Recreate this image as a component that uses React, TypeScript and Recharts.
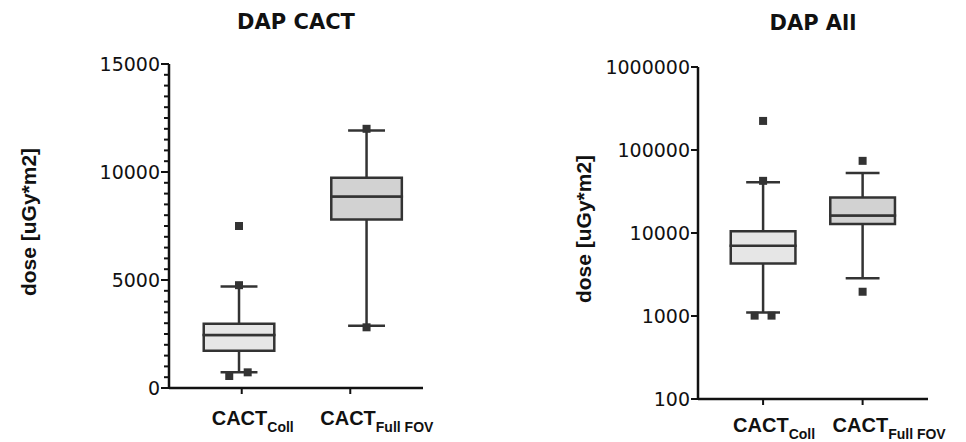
import {
  ScatterChart,
  Scatter,
  XAxis,
  YAxis,
  ZAxis,
  ReferenceArea,
  ReferenceLine,
} from 'recharts';

// categories (subscripts of "CACT")
const categories = ['Coll', 'Full FOV'];
const boxFills = ['#e6e6e6', '#d2d2d2'];

// DAP CACT, linear scale
const cactLow = [725, 2880];
const cactQ1 = [1730, 7800];
const cactMedian = [2450, 8870];
const cactQ3 = [2970, 9730];
const cactHigh = [4700, 11920];
const cactOutliers = [7500, 4760, 555, 725, 12000, 2810];
const cactOutlierGroup = [0, 0, 0, 0, 1, 1];
const cactOutlierJitter = [0, 0, -0.09, 0.08, 0, 0];
const cactTicks = Array.from({ length: 31 }, (_, i) => i * 500);

// DAP All, log scale
const allLow = [1100, 2840];
const allQ1 = [4300, 12800];
const allMedian = [7000, 16200];
const allQ3 = [10500, 26800];
const allHigh = [41000, 53000];
const allOutliers = [224000, 42500, 1010, 1010, 74000, 1960];
const allOutlierGroup = [0, 0, 0, 0, 1, 1];
const allOutlierJitter = [0, 0, -0.085, 0.085, 0, 0];
const allTicks = [100, 1000, 10000, 100000, 1000000];

const INK = '#111';
const BOX = '#333';
const BOX_W = 0.65;
const CAP_W = 0.34;

type Stats = { low: number[]; q1: number[]; median: number[]; q3: number[]; high: number[] };

function boxElements(stats: Stats, pos: number[]) {
  return categories.flatMap((_, i) => {
    const c = pos[i];
    const b0 = c - BOX_W / 2;
    const b1 = c + BOX_W / 2;
    const w0 = c - CAP_W / 2;
    const w1 = c + CAP_W / 2;
    const line = { stroke: BOX, strokeWidth: 2.5, ifOverflow: 'visible' as const };
    return [
      <ReferenceLine key={`sl${i}`} segment={[{ x: c, y: stats.low[i] }, { x: c, y: stats.q1[i] }]} {...line} />,
      <ReferenceLine key={`sh${i}`} segment={[{ x: c, y: stats.q3[i] }, { x: c, y: stats.high[i] }]} {...line} />,
      <ReferenceLine key={`cl${i}`} segment={[{ x: w0, y: stats.low[i] }, { x: w1, y: stats.low[i] }]} {...line} />,
      <ReferenceLine key={`ch${i}`} segment={[{ x: w0, y: stats.high[i] }, { x: w1, y: stats.high[i] }]} {...line} />,
      <ReferenceArea key={`bl${i}`} x1={b0} x2={b1} y1={stats.q1[i]} y2={stats.median[i]}
        fill={boxFills[i]} fillOpacity={1} stroke={BOX} strokeWidth={2.5} ifOverflow='visible' />,
      <ReferenceArea key={`bh${i}`} x1={b0} x2={b1} y1={stats.median[i]} y2={stats.q3[i]}
        fill={boxFills[i]} fillOpacity={1} stroke={BOX} strokeWidth={2.5} ifOverflow='visible' />,
    ];
  });
}

const makeYTick = (isMajor: (v: number) => boolean, majorLen: number, minorLen: number) =>
  (props: any) => {
    const { x, y, payload } = props;
    const major = isMajor(payload.value);
    return (
      <g>
        <line x1={x - (major ? majorLen : minorLen)} x2={x} y1={y} y2={y} stroke={INK} strokeWidth={2} />
        {major && (
          <text x={x - majorLen - 1} y={y} dy='0.36em' textAnchor='end'
            fontFamily='DejaVu Sans' fontSize={19} fill={INK}>
            {payload.value}
          </text>
        )}
      </g>
    );
  };

const makeXTick = (baseline: number) => (props: any) => {
  const { x, y, payload } = props;
  const sub = categories[payload.value - 1];
  return (
    <text x={x - 30} y={y - 6 + baseline} fontFamily='Liberation Sans' fontWeight='bold'
      fontSize={20} fill={INK}>
      CACT
      <tspan dy={7} fontSize={14}>{sub}</tspan>
    </text>
  );
};

function BoxPanel({
  title, stats, outliers, group, jitter, pos, log, domain, ticks, isMajor, majorLen, minorLen,
  width, top, right, yWidth, xHeight, xDomain, titleY, labelX, labelY, xBaseline,
}: any) {
  const points = outliers.map((v: number, i: number) => ({ x: pos[group[i]] + jitter[i], y: v }));
  const plotCenter = yWidth + (width - yWidth - right) / 2;
  return (
    <ScatterChart width={width} height={442} margin={{ top, right, bottom: 0, left: 0 }}>
      <XAxis type='number' dataKey='x' domain={xDomain} ticks={[1, 2]} allowDataOverflow
        height={xHeight} interval={0} tickSize={6} tickMargin={0}
        axisLine={{ stroke: INK, strokeWidth: 2.5 }} tickLine={{ stroke: INK, strokeWidth: 2 }}
        tick={makeXTick(xBaseline)} />
      <YAxis type='number' dataKey='y' scale={log ? 'log' : 'linear'} domain={domain} ticks={ticks}
        allowDataOverflow width={yWidth} interval={0} tickSize={0} tickMargin={0} tickLine={false}
        axisLine={{ stroke: INK, strokeWidth: 2.5 }} tick={makeYTick(isMajor, majorLen, minorLen)} />
      <ZAxis range={[70, 70]} />
      {boxElements(stats, pos)}
      <Scatter data={points} fill={BOX} shape='square' isAnimationActive={false} />
      <text x={plotCenter} y={titleY} textAnchor='middle' fontFamily='DejaVu Sans'
        fontWeight='bold' fontSize={21} fill={INK}>
        {title}
      </text>
      <text transform={`translate(${labelX},${labelY}) rotate(-90)`} textAnchor='middle'
        fontFamily='Liberation Sans' fontWeight='bold' fontSize={21} fill={INK}>
        dose [uGy*m2]
      </text>
    </ScatterChart>
  );
}

export default function App() {
  return (
    <div style={{ position: 'absolute', left: 0, top: 0, width: 966, height: 442, background: '#fff' }}>
      <div style={{ position: 'absolute', left: 0, top: 0 }}>
        <BoxPanel
          title='DAP CACT'
          stats={{ low: cactLow, q1: cactQ1, median: cactMedian, q3: cactQ3, high: cactHigh }}
          outliers={cactOutliers} group={cactOutlierGroup} jitter={cactOutlierJitter}
          pos={[0.975, 2.15]} log={false} domain={[0, 15000]} ticks={cactTicks}
          isMajor={(v: number) => v % 5000 === 0} majorLen={8} minorLen={5}
          width={480} top={64} right={57} yWidth={169} xHeight={54} xDomain={[0.33, 2.67]}
          titleY={29} labelX={36} labelY={222} xBaseline={37}
        />
      </div>
      <div style={{ position: 'absolute', left: 480, top: 0 }}>
        <BoxPanel
          title='DAP All'
          stats={{ low: allLow, q1: allQ1, median: allMedian, q3: allQ3, high: allHigh }}
          outliers={allOutliers} group={allOutlierGroup} jitter={allOutlierJitter}
          pos={[1, 2]} log={true} domain={[100, 1000000]} ticks={allTicks}
          isMajor={() => true} majorLen={7} minorLen={7}
          width={486} top={67} right={38} yWidth={218} xHeight={43} xDomain={[0.346, 2.657]}
          titleY={30} labelX={111} labelY={229} xBaseline={33}
        />
      </div>
    </div>
  );
}
